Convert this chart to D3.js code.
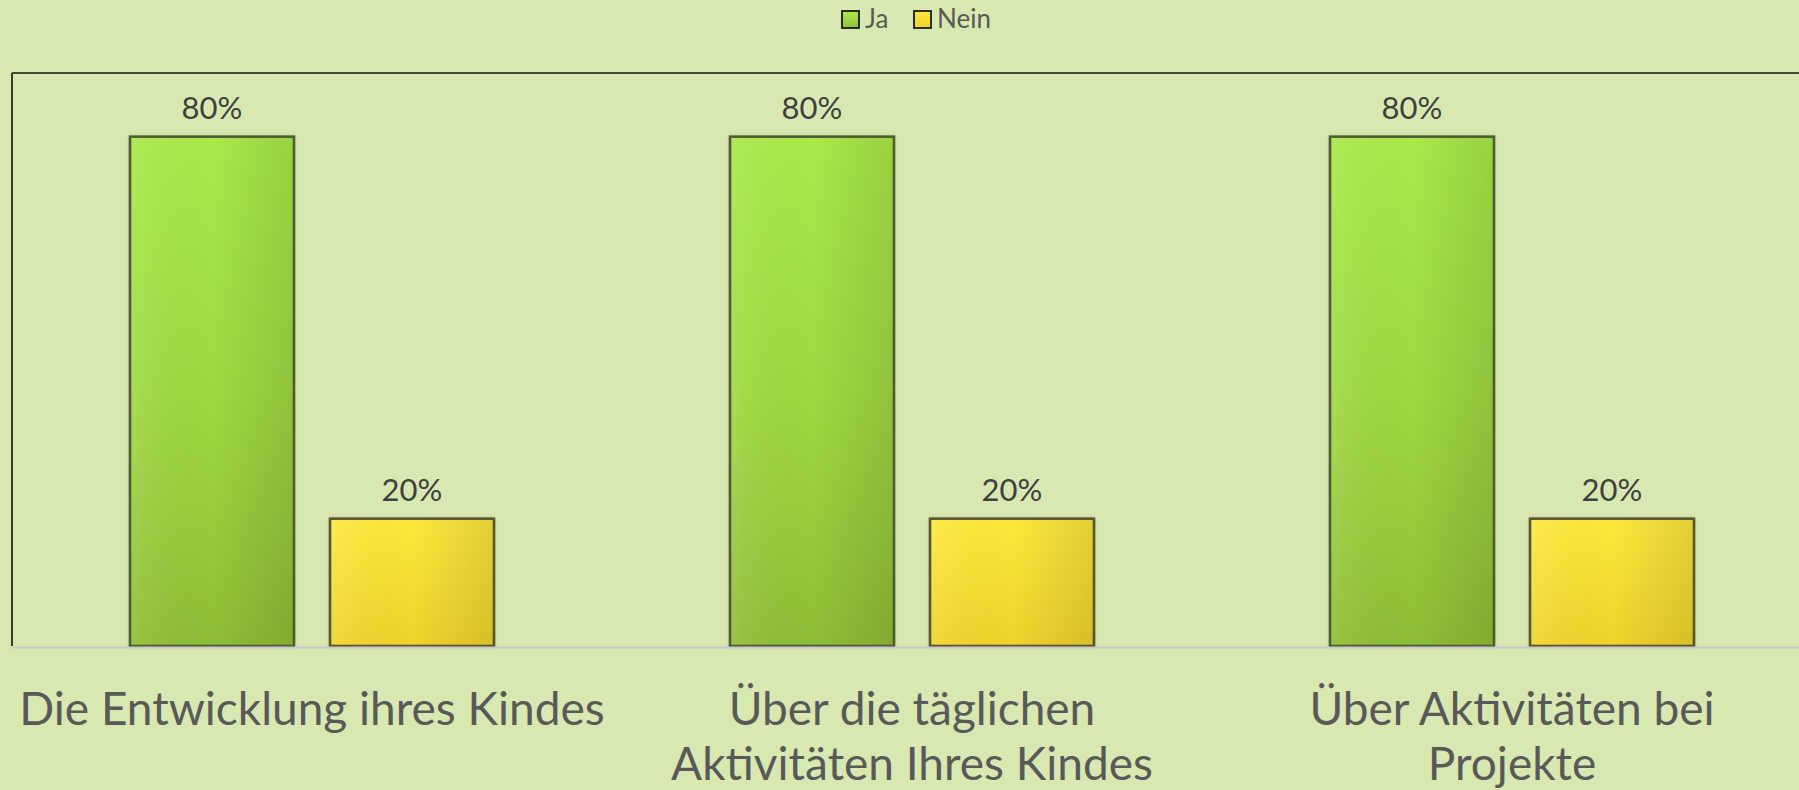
<!DOCTYPE html>
<html>
<head>
<meta charset="utf-8">
<script src="https://cdn.jsdelivr.net/npm/d3@7"></script>
<style>
  html, body { margin: 0; padding: 0; background: #d7e9b0; }
  svg { display: block; }
  text { font-family: "Lato", "DejaVu Sans", sans-serif; }
</style>
</head>
<body>
<svg id="chart" width="1799" height="790"></svg>
<script>
// ---- data ----
const categories = [
  ["Die Entwicklung ihres Kindes"],
  ["Über die täglichen", "Aktivitäten Ihres Kindes"],
  ["Über Aktivitäten bei", "Projekte"]
];
const seriesNames = ["Ja", "Nein"];
const jaValues = [0.80, 0.80, 0.80];
const neinValues = [0.20, 0.20, 0.20];
const yDomain = [0, 0.9];

// ---- layout ----
const W = 1799, H = 790;
const plot = { left: 12, top: 73, right: 1812, bottom: 646 };

const svg = d3.select("#chart");
svg.append("rect").attr("width", W).attr("height", H).attr("fill", "#d7e9b0");

const defs = svg.append("defs");
function grad(id, stops, x2, y2) {
  const g = defs.append("linearGradient").attr("id", id)
    .attr("x1", 0).attr("y1", 0).attr("x2", x2).attr("y2", y2);
  stops.forEach(s => g.append("stop").attr("offset", s[0]).attr("stop-color", s[1]).attr("stop-opacity", s[2] === undefined ? 1 : s[2]));
}
grad("gJa", [[0, "#aae84b"], [0.5, "#a0d843"], [1, "#8fbd36"]], 0, 1);
grad("gNein", [[0, "#fce83c"], [1, "#f0d22c"]], 0, 1);
grad("hShade", [[0, "#ffffff", 0.10], [0.1, "#ffffff", 0.04], [0.5, "#000000", 0.0], [1, "#000000", 0.10]], 1, 0);
const f = defs.append("filter").attr("id", "shadow").attr("x", "-10%").attr("y", "-10%").attr("width", "120%").attr("height", "120%");
f.append("feDropShadow").attr("dx", 0).attr("dy", 0).attr("stdDeviation", 2.5).attr("flood-color", "#000").attr("flood-opacity", 0.22);

const fills = { "Ja": "url(#gJa)", "Nein": "url(#gNein)" };
const strokes = { "Ja": "#4d5c34", "Nein": "#5a5530" };

const x0 = d3.scaleBand().domain(d3.range(categories.length)).range([plot.left, plot.right]).paddingInner(0).paddingOuter(0);
const x1 = d3.scaleBand().domain(seriesNames).range([118, 482]).paddingInner(0.18).paddingOuter(0);
const y = d3.scaleLinear().domain(yDomain).range([plot.bottom, plot.top]);

// frame: top and left
svg.append("line").attr("x1", plot.left).attr("x2", W).attr("y1", plot.top).attr("y2", plot.top)
  .attr("stroke", "#111").attr("stroke-width", 1.6);
svg.append("line").attr("x1", plot.left).attr("x2", plot.left).attr("y1", plot.top).attr("y2", plot.bottom)
  .attr("stroke", "#111").attr("stroke-width", 1.6);

const rows = [];
categories.forEach((c, i) => {
  rows.push({ i, s: "Ja", v: jaValues[i] });
  rows.push({ i, s: "Nein", v: neinValues[i] });
});

const bars = svg.append("g");
const bg = bars.selectAll("g").data(rows).join("g")
  .attr("transform", d => `translate(${x0(d.i) + x1(d.s)},0)`);
bg.append("rect")
  .attr("x", 0).attr("width", x1.bandwidth())
  .attr("y", d => y(d.v)).attr("height", d => y(0) - y(d.v))
  .attr("fill", d => fills[d.s])
  .attr("filter", "url(#shadow)");
bg.append("rect")
  .attr("x", 0).attr("width", x1.bandwidth())
  .attr("y", d => y(d.v)).attr("height", d => y(0) - y(d.v))
  .attr("fill", "url(#hShade)")
  .attr("stroke", d => strokes[d.s]).attr("stroke-width", 2.6);

// baseline
svg.append("line").attr("x1", plot.left).attr("x2", W).attr("y1", plot.bottom + 1.5).attr("y2", plot.bottom + 1.5)
  .attr("stroke", "#c9c9c9").attr("stroke-width", 2.2);

// data labels
bg.append("text")
  .attr("x", x1.bandwidth() / 2)
  .attr("y", d => y(d.v) - 18)
  .attr("text-anchor", "middle")
  .attr("font-size", 31)
  .attr("fill", "#404040")
  .text(d => d3.format(".0%")(d.v));

// category labels
const cl = svg.append("g");
categories.forEach((lines, i) => {
  const t = cl.append("text")
    .attr("text-anchor", "middle")
    .attr("font-size", 46)
    .attr("fill", "#595959");
  lines.forEach((ln, k) => {
    t.append("tspan").attr("x", x0(i) + x0.bandwidth() / 2).attr("y", 725 + k * 55).text(ln);
  });
});

// legend
const lg = svg.append("g");
const legendItems = [
  { name: "Ja", x: 841 },
  { name: "Nein", x: 913 }
];
legendItems.forEach(it => {
  lg.append("rect").attr("x", it.x + 1).attr("y", 11).attr("width", 17).attr("height", 17)
    .attr("fill", fills[it.name]).attr("stroke", "#1a1a1a").attr("stroke-width", 1.8);
  lg.append("text").attr("x", it.x + 24).attr("y", 28).attr("font-size", 26).attr("fill", "#595959").text(it.name);
});
</script>
</body>
</html>
